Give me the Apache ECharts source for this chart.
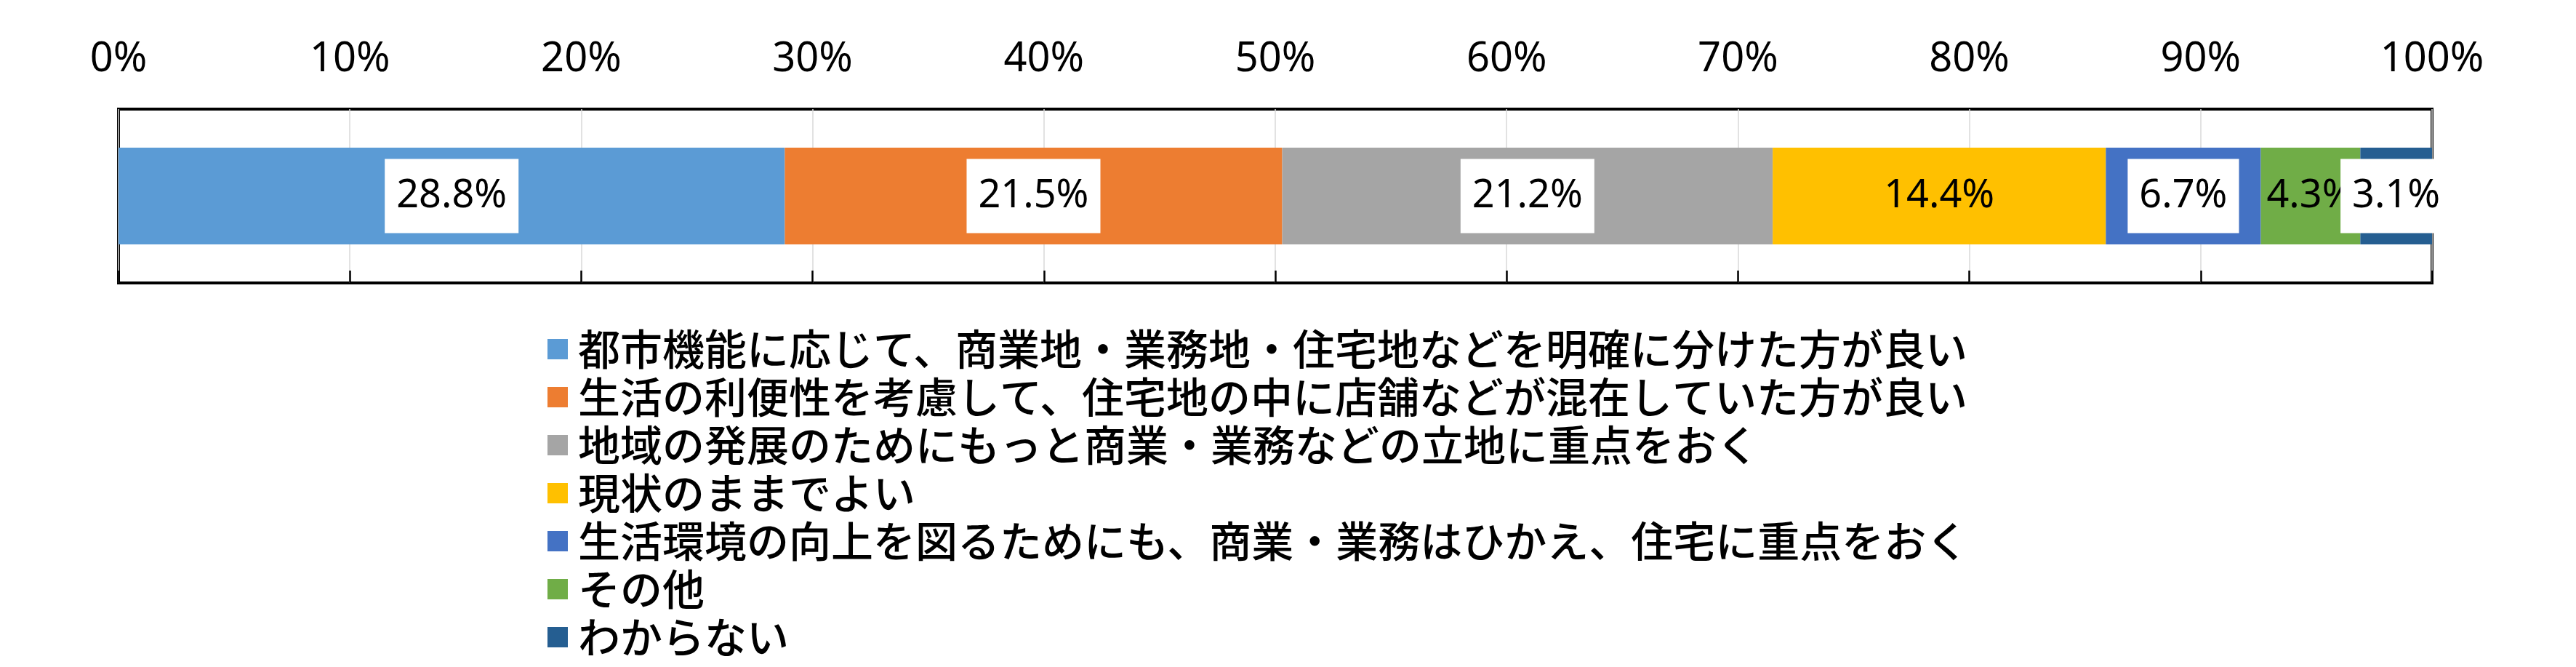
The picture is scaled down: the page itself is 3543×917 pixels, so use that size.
<!DOCTYPE html>
<html>
<head>
<meta charset="utf-8">
<script src="https://cdn.jsdelivr.net/npm/echarts@6/dist/echarts.min.js"></script>
<style>
  html, body { margin: 0; padding: 0; background: #fff; }
  #chart { width: 3543px; height: 917px; }
</style>
</head>
<body>
<div id="chart"></div>
<script>
// 回答項目
var answers = [
  '都市機能に応じて、商業地・業務地・住宅地などを明確に分けた方が良い',
  '生活の利便性を考慮して、住宅地の中に店舗などが混在していた方が良い',
  '地域の発展のためにもっと商業・業務などの立地に重点をおく',
  '現状のままでよい',
  '生活環境の向上を図るためにも、商業・業務はひかえ、住宅に重点をおく',
  'その他',
  'わからない'
];
// 割合(%)
var shares = [28.8, 21.5, 21.2, 14.4, 6.7, 4.3, 3.1];
var tickLabels = ['0%', '10%', '20%', '30%', '40%', '50%', '60%', '70%', '80%', '90%', '100%'];

var colors = ['#5B9BD5', '#ED7D31', '#A5A5A5', '#FFC000', '#4472C4', '#70AD47', '#255E91'];
// 白い枠付きラベルにする項目
var boxed = [true, true, true, false, true, false, true];

var numFont = "'Liberation Sans Narrow', 'Noto Sans', sans-serif";
var jpFont = "'Noto Sans CJK JP', sans-serif";

var chart = echarts.init(document.getElementById('chart'));

var series = answers.map(function (name, i) {
  var label = {
    show: true,
    position: 'inside',
    formatter: function (p) { return p.value.toFixed(1) + '%'; },
    color: '#000',
    fontFamily: numFont,
    fontSize: 54,
    lineHeight: 54
  };
  if (boxed[i]) {
    label.backgroundColor = '#fff';
    label.padding = [24, 16];
  }
  return {
    name: name,
    type: 'bar',
    stack: 'all',
    barWidth: 133,
    itemStyle: { color: colors[i] },
    label: label,
    z: 3 + i,
    data: [shares[i]]
  };
});

chart.setOption({
  animation: false,
  backgroundColor: '#fff',
  grid: {
    left: 163, right: 198, top: 150, height: 239,
    show: true, borderColor: '#000', borderWidth: 4, backgroundColor: 'transparent'
  },
  xAxis: [{
    type: 'value', position: 'top', min: 0, max: 100, interval: 10,
    axisLine: { show: false },
    axisTick: { show: false },
    splitLine: { show: true, lineStyle: { color: '#d9d9d9', width: 1.5 } },
    axisLabel: {
      margin: 40, fontFamily: numFont, fontSize: 56, color: '#000',
      formatter: function (v) { return tickLabels[Math.round(v / 10)]; }
    }
  }, {
    type: 'value', position: 'bottom', min: 0, max: 100, interval: 10,
    axisLine: { show: false },
    axisTick: { show: true, inside: true, length: 17, lineStyle: { color: '#000', width: 2.5 } },
    splitLine: { show: false },
    axisLabel: { show: false }
  }],
  yAxis: {
    type: 'category', data: [''],
    axisLine: { show: false }, axisTick: { show: false }, axisLabel: { show: false }
  },
  legend: {
    orient: 'vertical', left: 753, top: 450, height: 467, padding: 0,
    itemWidth: 28, itemHeight: 28, itemGap: 6, icon: 'rect',
    data: answers,
    textStyle: { fontFamily: jpFont, fontSize: 58, fontWeight: 500, lineHeight: 60, color: '#000', padding: [0, 0, 0, 9] }
  },
  series: series
});
</script>
</body>
</html>
